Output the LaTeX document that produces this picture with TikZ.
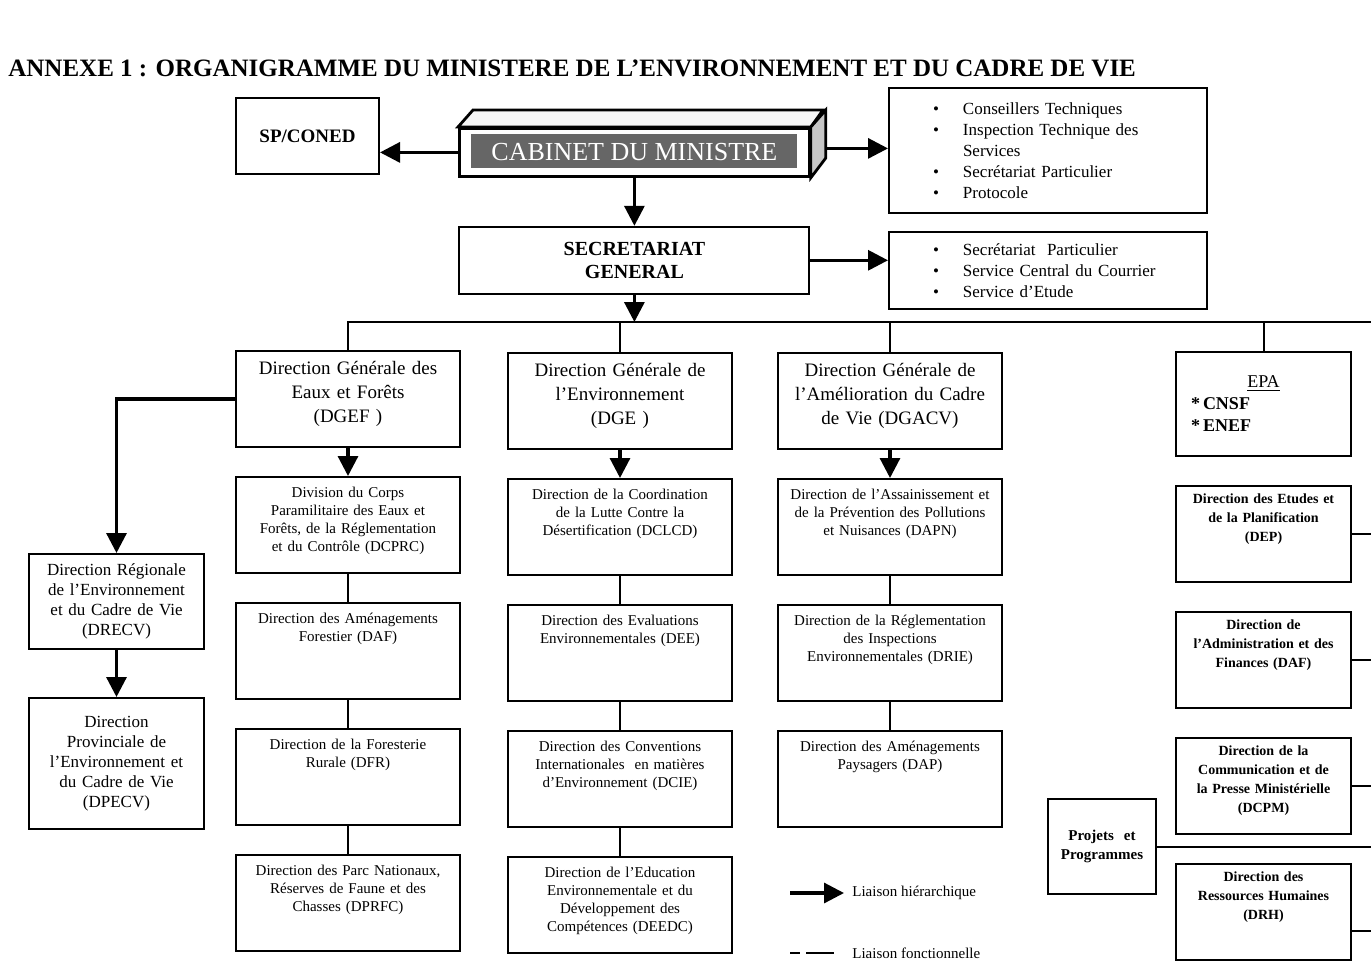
\documentclass[tikz,border=0pt]{standalone}
\usepackage{fontspec}
\setmainfont{Liberation Serif}
\usetikzlibrary{shapes,arrows.meta,positioning}
\newcommand{\puce}{\makebox[15pt][l]{\textbullet}}
\newcommand{\suite}{\hspace*{15pt}}

\begin{document}
\begin{tikzpicture}[
    x=0.5pt, y=-0.5pt,
    node distance=14pt,
    cadre/.style={draw, line width=1pt},
    dg/.style={cadre, text width=106pt, inner xsep=3pt, inner ysep=4pt, align=center, text height=7.5pt, text depth=32.5pt, font=\fontsize{9.5}{12}\selectfont},
    dir/.style={cadre, text width=108pt, inner xsep=2pt, inner ysep=4pt, align=center, text height=6pt, text depth=34pt, font=\fontsize{7.5}{9}\selectfont},
    dirn/.style={cadre, text width=83.5pt, inner xsep=2pt, inner ysep=3pt, align=center, text height=5.5pt, text depth=36.5pt, font=\bfseries\fontsize{7}{9.5}\selectfont},
    reg/.style={cadre, text width=83.5pt, inner xsep=2pt, align=center, font=\fontsize{8.5}{10}\selectfont},
    liste/.style={cadre, text width=115pt, inner xsep=22pt, align=left, font=\fontsize{8.5}{10.5}\selectfont},
    lien/.style={line width=1pt},
    fleche/.style={line width=1.6pt, -{Triangle[length=10pt,width=10pt]}},
    legende/.style={inner sep=4pt, font=\fontsize{7.5}{9}\selectfont}
]
    \useasboundingbox (0,0) rectangle (1371,963);

    \node (titre) [anchor=west, inner sep=0pt, font=\bfseries\fontsize{12.5}{14}\selectfont] at (8,68) {ANNEXE 1 : ORGANIGRAMME DU MINISTERE DE L’ENVIRONNEMENT ET DU CADRE DE VIE};

    \node (cab) [cadre, line width=1.4pt, anchor=north west, minimum width=175pt, minimum height=24pt, inner sep=0pt, text=white, font=\fontsize{13}{15}\selectfont,
        path picture={\fill[black!60] ([xshift=6pt,yshift=-3pt]path picture bounding box.north west) rectangle ([xshift=-6pt,yshift=4pt]path picture bounding box.south east);}] at (458,127) {CABINET DU MINISTRE};
    \filldraw[fill=gray!8, line width=1.4pt] (cab.north west) -- ++(15,-17) -- ++(350,0) -- (cab.north east) -- cycle;
    \filldraw[fill=gray!45, line width=1.4pt] (cab.north east) -- ++(15,-17) -- ++(0,48) -- (cab.south east) -- cycle;

    \node (spconed) [cadre, anchor=north west, minimum width=71.5pt, minimum height=38pt, font=\bfseries\fontsize{9.5}{11}\selectfont] at (235,97) {SP/CONED};
    \node (sg) [cadre, below=24pt of cab, minimum width=175pt, minimum height=33.5pt, align=center, font=\bfseries\fontsize{10}{11.5}\selectfont] {SECRETARIAT\\ GENERAL};

    \node (conseil) [liste, anchor=north west, minimum height=62.5pt] at (888,87) {\puce Conseillers Techniques\\ \puce Inspection Technique des\\ \suite Services\\ \puce Secrétariat Particulier\\ \puce Protocole};
    \node (servsg) [liste, below=8.5pt of conseil, minimum height=38.5pt] {\puce Secrétariat\ \ Particulier\\ \puce Service Central du Courrier\\ \puce Service d’Etude};

    \node (dgef) [dg, anchor=north west] at (235,350) {Direction Générale des\\ Eaux et Forêts\\ (DGEF )};
    \node (dge) [dg, anchor=north west] at (507,352) {Direction Générale de\\ l’Environnement\\ (DGE )};
    \node (dgacv) [dg, anchor=north west] at (777,352) {Direction Générale de\\ l’Amélioration du Cadre\\ de Vie (DGACV)};

    \node (dcprc) [dir, below=of dgef] {Division du Corps\\ Paramilitaire des Eaux et\\ Forêts, de la Réglementation\\ et du Contrôle (DCPRC)};
    \node (dafo) [dir, below=of dcprc] {Direction des Aménagements\\ Forestier (DAF)};
    \node (dfr) [dir, below=of dafo] {Direction de la Foresterie\\ Rurale (DFR)};
    \node (dprfc) [dir, below=of dfr] {Direction des Parc Nationaux,\\ Réserves de Faune et des\\ Chasses (DPRFC)};

    \node (dclcd) [dir, below=of dge] {Direction de la Coordination\\ de la Lutte Contre la\\ Désertification (DCLCD)};
    \node (dee) [dir, below=of dclcd] {Direction des Evaluations\\ Environnementales (DEE)};
    \node (dcie) [dir, below=of dee] {Direction des Conventions\\ Internationales\ \ en matières\\ d’Environnement (DCIE)};
    \node (deedc) [dir, below=of dcie] {Direction de l’Education\\ Environnementale et du\\ Développement des\\ Compétences (DEEDC)};

    \node (dapn) [dir, below=of dgacv] {Direction de l’Assainissement et\\ de la Prévention des Pollutions\\ et Nuisances (DAPN)};
    \node (drie) [dir, below=of dapn] {Direction de la Réglementation\\ des Inspections\\ Environnementales (DRIE)};
    \node (dap) [dir, below=of drie] {Direction des Aménagements\\ Paysagers (DAP)};

    \node (drecv) [reg, anchor=north west, minimum height=47.5pt] at (28,553) {Direction Régionale\\ de l’Environnement\\ et du Cadre de Vie\\ (DRECV)};
    \node (dpecv) [reg, below=23.5pt of drecv, minimum height=65.5pt] {Direction\\ Provinciale de\\ l’Environnement et\\ du Cadre de Vie\\ (DPECV)};

    \node (epa) [cadre, anchor=north west, text width=72.5pt, inner xsep=7.5pt, minimum height=52pt, align=left, font=\bfseries\fontsize{9}{11}\selectfont] at (1175,351) {\makebox[\linewidth]{\mdseries\underline{EPA}}\\ {*}\,CNSF\\ {*}\,ENEF};
    \node (dep) [dirn, below=of epa] {Direction des Etudes et\\ de la Planification\\ (DEP)};
    \node (dafn) [dirn, below=of dep] {Direction de\\ l’Administration et des\\ Finances (DAF)};
    \node (dcpm) [dirn, below=of dafn] {Direction de la\\ Communication et de\\ la Presse Ministérielle\\ (DCPM)};
    \node (drh) [dirn, below=of dcpm] {Direction des\\ Ressources Humaines\\ (DRH)};
    \node (projets) [cadre, anchor=north west, text width=48pt, inner xsep=3pt, minimum height=47.5pt, align=center, font=\bfseries\fontsize{7.5}{9.5}\selectfont] at (1047,798) {Projets\ \ et\\ Programmes};

    \coordinate (bord) at (1371,322);
    \coordinate (lgH) at (790,893);
    \coordinate (lgF) at (790,953);
    \node (hier) [legende, anchor=west] at (844,893) {Liaison hiérarchique};
    \node (fonc) [legende, anchor=west] at (844,953) {Liaison fonctionnelle};

    \draw [fleche] (cab.west) -- (cab.west -| spconed.east);
    \draw [fleche] ([xshift=7.5pt,yshift=2pt]cab.east) -- ([yshift=2pt]cab.east -| conseil.west);
    \draw [fleche] (cab.south) -- (sg.north);
    \draw [fleche] (sg.east) -- (sg.east -| servsg.west);
    \draw [fleche] (sg.south) -- (sg.south |- bord);

    \draw [lien] (dgef.north) |- (bord);
    \draw [lien] (dge.north) -- (dge.north |- bord);
    \draw [lien] (dgacv.north) -- (dgacv.north |- bord);
    \draw [lien] (epa.north) -- (epa.north |- bord);

    \draw [fleche] (dgef.west) -| (drecv.north);
    \draw [fleche] (drecv) -- (dpecv);

    \draw [fleche] (dgef) -- (dcprc);
    \draw [lien] (dcprc) -- (dafo);
    \draw [lien] (dafo) -- (dfr);
    \draw [lien] (dfr) -- (dprfc);

    \draw [fleche] (dge) -- (dclcd);
    \draw [lien] (dclcd) -- (dee);
    \draw [lien] (dee) -- (dcie);
    \draw [lien] (dcie) -- (deedc);

    \draw [fleche] (dgacv) -- (dapn);
    \draw [lien] (dapn) -- (drie);
    \draw [lien] (drie) -- (dap);

    \draw [lien] (dep.east) -- (dep.east -| bord);
    \draw [lien] (dafn.east) -- (dafn.east -| bord);
    \draw [lien] (dcpm.east) -- (dcpm.east -| bord);
    \draw [lien] ([yshift=-9.5pt]drh.east) -- ([yshift=-9.5pt]drh.east -| bord);
    \draw [lien] (projets.east) -- (projets.east -| bord);

    \draw [fleche] (lgH) -- (hier.west);
    \draw [lien, dash pattern=on 5pt off 3pt on 14pt off 0pt] (lgF) -- ([xshift=-5pt]fonc.west);
\end{tikzpicture}
\end{document}
